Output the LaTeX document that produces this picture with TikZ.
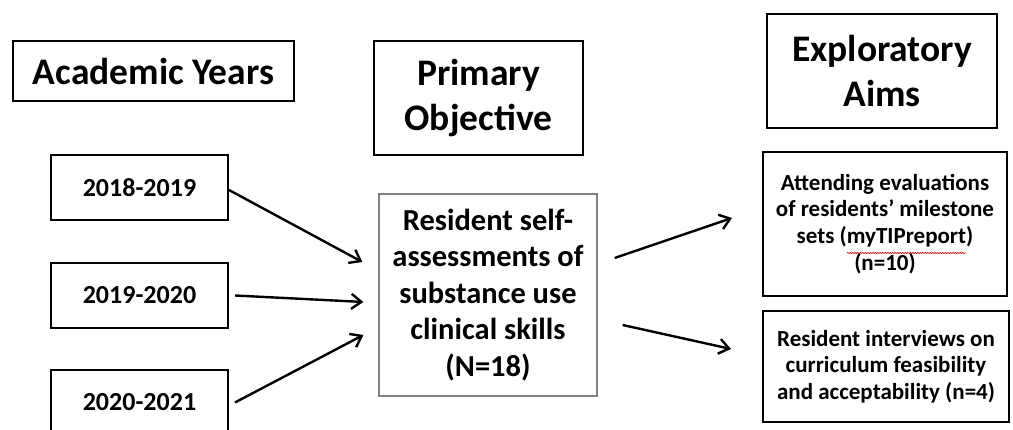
\documentclass[tikz,border=0pt]{standalone}
\usepackage{fontspec}
\setmainfont{Carlito}
\usetikzlibrary{arrows.meta, calc, positioning, decorations.pathmorphing}

\begin{document}
\begin{tikzpicture}[x=1pt, y=1pt,
    box/.style = {draw, line width=2pt, inner sep=0pt, align=center},
    kopf/.style = {box, font=\bfseries\fontsize{37.5}{44.5}\selectfont},
    jahr/.style = {box, minimum width=177pt, minimum height=65pt, font=\bfseries\fontsize{26}{31}\selectfont},
    ziel/.style = {box, font=\bfseries\fontsize{23}{26.7}\selectfont},
    pfeil/.style = {line width=2.4pt, -{Straight Barb[length=10pt, width=15pt, line width=2.4pt]}}]

%%% Definition der BoundingBox
\clip (0,0) rectangle (1013,430);
\fill[white] (0,0) rectangle (1013,430);

%%% Ueberschriften
\node[kopf, minimum width=281pt, minimum height=60pt] (acad) at (153.5,359) {Academic Years};
\node[kopf, minimum width=209pt, minimum height=114pt] (prim) at (478.5,332) {Primary\\Objective};
\node[kopf, minimum width=230pt, minimum height=114pt] (expl) at (882,359) {Exploratory\\Aims};

%%% Studienjahre
\node[jahr] (y1819) at (139.5,242.5) {2018-2019};
\node[jahr] (y1920) at (139.5,134.5) {2019-2020};
\node[jahr] (y2021) at (139.5,27.5) {2020-2021};

%%% Hauptziel
\node[box, draw=gray, line width=1.3pt, minimum width=218pt, minimum height=202pt,
      font=\bfseries\fontsize{30.5}{36.5}\selectfont] (res) at (488,135)
      {Resident self-\\assessments of\\substance use\\clinical skills\\(N=18)};

%%% Explorative Ziele
\node[ziel, minimum width=244pt, minimum height=144pt] (attd) at (885,206)
      {Attending evaluations\\of residents’ milestone\\sets (myTIPreport)\\(n=10)};
\node[ziel, minimum width=246pt, minimum height=111pt] (intv) at (886,63.5)
      {Resident interviews on\\curriculum feasibility\\and acceptability (n=4)};

%%% Rechtschreib-Markierung
\draw[red!80!black, line width=0.6pt, decorate,
      decoration={snake, segment length=2.5pt, amplitude=0.6pt}]
      ($(attd.center)+(-38,-29)$) -- ($(attd.center)+(81,-29)$);

%%% Hilfspunkte fuer die Pfeile
\coordinate (in1) at ($(res.west)+(-16,33)$);
\coordinate (in2) at ($(res.west)+(-15,-7)$);
\coordinate (in3) at ($(res.west)+(-15,-40)$);
\coordinate (out1) at ($(res.east)+(17,37)$);
\coordinate (out2) at ($(res.east)+(25,-30)$);
\coordinate (end1) at ($(attd.west)+(-30,6)$);
\coordinate (end2) at ($(intv.west)+(-31,17.5)$);

%%% Pfeile
\draw[pfeil] ([yshift=-2.5pt]y1819.east) -- (in1);
\draw[pfeil] ([xshift=6pt]y1920.east) -- (in2);
\draw[pfeil] ([xshift=6pt]y2021.east) -- (in3);
\draw[pfeil] (out1) -- (end1);
\draw[pfeil] (out2) -- (end2);
\end{tikzpicture}
\end{document}
